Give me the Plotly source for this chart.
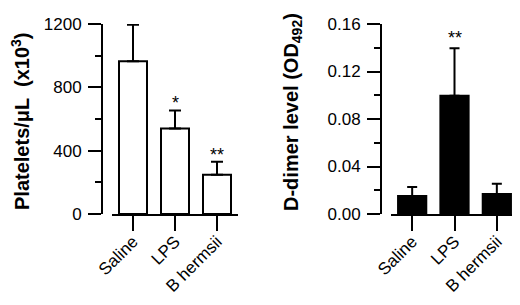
import plotly.graph_objects as go

categories = ["Saline", "LPS", "B hermsii"]
platelets = [965, 540, 248]
platelets_err = [230, 114, 82]
platelets_sig = ["", "*", "**"]
ddimer = [0.0152, 0.0995, 0.0168]
ddimer_err = [0.0075, 0.040, 0.0087]
ddimer_sig = ["", "**", ""]

# page body has an 8px margin; the figure is laid out in screen pixels minus that offset
OFF = 8
W, H = 520 - OFF, 305 - OFF
FONT = "Liberation Sans, Arial, Helvetica, sans-serif"

def px(x):
    return (x - OFF) / W

def py(y):
    return (H - (y - OFF)) / H

fig = go.Figure()
fig.add_trace(go.Bar(
    x=categories, y=platelets, xaxis="x", yaxis="y",
    marker=dict(color="white", line=dict(color="black", width=2)),
    error_y=dict(type="data", array=platelets_err, arrayminus=[0] * 3, symmetric=False,
                 color="black", thickness=2, width=6),
    showlegend=False,
))
fig.add_trace(go.Bar(
    x=categories, y=ddimer, xaxis="x2", yaxis="y2",
    marker=dict(color="black", line=dict(color="black", width=2)),
    error_y=dict(type="data", array=ddimer_err, arrayminus=[0] * 3, symmetric=False,
                 color="black", thickness=2, width=5),
    showlegend=False,
))

ydom = [py(214), py(24)]
common_x = dict(showline=True, linecolor="black", linewidth=2, ticks="outside",
                ticklen=15, tickwidth=2, tickcolor="black", tickangle=-45,
                tickfont=dict(family=FONT, size=17, color="black"),
                range=[-0.5, 2.5], showgrid=False, zeroline=False, fixedrange=True,
                automargin=False, ticklabelstandoff=-6)
common_y = dict(showline=True, linecolor="black", linewidth=2, ticks="outside",
                ticklen=13, tickwidth=2, tickcolor="black",
                tickfont=dict(family=FONT, size=17, color="black"),
                showgrid=False, zeroline=False, anchor="free", domain=ydom,
                ticklabelstandoff=3, automargin=False)

fig.update_layout(
    width=W, height=H, margin=dict(l=0, r=0, t=0, b=0, autoexpand=False),
    paper_bgcolor="white", plot_bgcolor="white", bargap=1/3,
    font=dict(family=FONT, color="black"),
    xaxis=dict(domain=[px(112), px(238)], anchor="y", **common_x),
    xaxis2=dict(domain=[px(391), px(518)], anchor="y2", **common_x),
    yaxis=dict(position=px(102), range=[0, 1200], tickvals=[0, 400, 800, 1200],
               minor=dict(dtick=200, ticklen=6, tickwidth=2, tickcolor="black", ticks="outside"),
               **common_y),
    yaxis2=dict(position=px(381), range=[0, 0.16], tickvals=[0, 0.04, 0.08, 0.12, 0.16],
                tickformat=".2f",
                minor=dict(dtick=0.02, ticklen=6, tickwidth=2, tickcolor="black", ticks="outside"),
                **common_y),
)

annotations = [
    dict(text="Platelets/μL  (x10<sup>3</sup>)", textangle=-90, xref="paper", yref="paper",
         x=px(20), y=py(121), xanchor="center", yanchor="middle", showarrow=False,
         font=dict(family=FONT, size=20, color="black", weight="bold")),
    dict(text="D-dimer level (OD<sub>492</sub>)", textangle=-90, xref="paper", yref="paper",
         x=px(293), y=py(112), xanchor="center", yanchor="middle", showarrow=False,
         font=dict(family=FONT, size=20, color="black", weight="bold")),
]
for c, v, e, s in zip(categories, platelets, platelets_err, platelets_sig):
    if s:
        annotations.append(dict(text=s, x=c, y=v + e, xref="x", yref="y", showarrow=False,
                                yanchor="bottom", yshift=-5, font=dict(family=FONT, size=18, color="black")))
for c, v, e, s in zip(categories, ddimer, ddimer_err, ddimer_sig):
    if s:
        annotations.append(dict(text=s, x=c, y=v + e, xref="x2", yref="y2", showarrow=False,
                                yanchor="bottom", yshift=-2, font=dict(family=FONT, size=18, color="black")))
fig.update_layout(annotations=annotations)

fig.write_html("out.html")
